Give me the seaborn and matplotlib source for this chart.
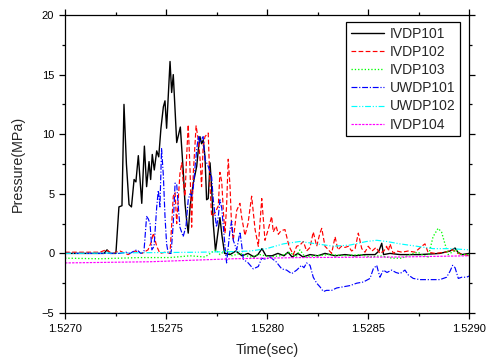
import matplotlib
matplotlib.use("Agg")
import matplotlib.pyplot as plt
import numpy as np
import seaborn as sns
from matplotlib.ticker import MultipleLocator, FormatStrFormatter

# ---------- Data ---------- #

t_ivdp101 = [1.527000, 1.527193, 1.527208, 1.527223, 1.527252, 1.527267, 1.527282, 1.527292,
             1.527304, 1.527317, 1.527329, 1.527342, 1.527351, 1.527363, 1.527380, 1.527393,
             1.527404, 1.527416, 1.527424, 1.527432, 1.527442, 1.527454, 1.527464, 1.527475,
             1.527487, 1.527495, 1.527503, 1.527520, 1.527528, 1.527536, 1.527553, 1.527571,
             1.527585, 1.527594, 1.527602, 1.527610, 1.527619, 1.527635, 1.527652, 1.527660,
             1.527668, 1.527676, 1.527684, 1.527693, 1.527701, 1.527709, 1.527718, 1.527726,
             1.527734, 1.527745, 1.527759, 1.527767, 1.527777, 1.527790, 1.527817, 1.527846,
             1.527876, 1.527906, 1.527936, 1.527955, 1.527975, 1.527995, 1.528025, 1.528054,
             1.528084, 1.528104, 1.528124, 1.528153, 1.528178, 1.528213, 1.528252, 1.528287,
             1.528337, 1.528386, 1.528436, 1.528485, 1.528535, 1.528554, 1.528568, 1.528577,
             1.528609, 1.528658, 1.528757, 1.528856, 1.528906, 1.528931, 1.528945, 1.528965,
             1.529000]
p_ivdp101 = [0.0, 0.0, 0.3, 0.0, 0.0, 3.9, 4.0, 12.5,
             7.5, 4.1, 3.9, 6.2, 6.0, 8.2, 4.2, 9.0,
             5.6, 7.7, 6.2, 8.3, 7.0, 8.6, 8.1, 10.5,
             12.3, 12.8, 10.5, 16.1, 13.5, 15.0, 9.3, 10.6,
             7.0, 4.2, 2.8, 1.7, 3.9, 5.9, 7.3, 8.7,
             9.8, 9.2, 9.5, 8.1, 4.5, 4.6, 7.6, 5.5,
             2.5, 0.2, 2.0, 3.0, 1.5, 0.0, -0.1, 0.2,
             -0.2, 0.0, -0.3, -0.1, 0.4, -0.2, -0.2, 0.0,
             -0.2, 0.1, -0.3, 0.0, -0.3, -0.1, -0.2, 0.0,
             -0.2, -0.1, -0.2, -0.1, -0.1, 0.2, 0.85, -0.1,
             0.0, -0.1, -0.1, 0.0, 0.2, 0.45, 0.1, -0.1,
             0.0]

t_ivdp102 = [1.527000, 1.527173, 1.527203, 1.527233, 1.527272, 1.527312, 1.527347, 1.527381,
             1.527411, 1.527426, 1.527437, 1.527454, 1.527470, 1.527495, 1.527520, 1.527536,
             1.527545, 1.527553, 1.527569, 1.527578, 1.527585, 1.527594, 1.527602, 1.527610,
             1.527619, 1.527627, 1.527635, 1.527649, 1.527660, 1.527668, 1.527676, 1.527684,
             1.527693, 1.527709, 1.527718, 1.527726, 1.527743, 1.527759, 1.527767, 1.527776,
             1.527784, 1.527792, 1.527800, 1.527808, 1.527817, 1.527825, 1.527833, 1.527850,
             1.527866, 1.527874, 1.527891, 1.527906, 1.527924, 1.527941, 1.527957, 1.527974,
             1.527990, 1.528006, 1.528023, 1.528031, 1.528045, 1.528056, 1.528069, 1.528089,
             1.528109, 1.528130, 1.528147, 1.528163, 1.528180, 1.528196, 1.528213, 1.528229,
             1.528246, 1.528262, 1.528271, 1.528287, 1.528304, 1.528320, 1.528337, 1.528351,
             1.528369, 1.528386, 1.528403, 1.528419, 1.528436, 1.528452, 1.528469, 1.528485,
             1.528501, 1.528520, 1.528540, 1.528559, 1.528579, 1.528592, 1.528601, 1.528609,
             1.528625, 1.528643, 1.528668, 1.528698, 1.528733, 1.528766, 1.528782, 1.528797,
             1.528832, 1.528881, 1.528921, 1.528945, 1.528975, 1.529000]
p_ivdp102 = [0.1, 0.1, 0.3, 0.0, 0.2, -0.1, 0.2, 0.0,
             0.3, 0.9, 1.7, 0.6, 0.0, 0.1, 0.0, 4.8,
             5.1, 2.5, 6.7, 7.6, 6.0, 4.8, 8.1, 10.8,
             7.0, 2.2, 6.7, 10.7, 9.5, 8.1, 5.6, 9.0,
             9.8, 10.1, 5.6, 3.1, 3.4, 4.0, 6.8, 6.0,
             3.5, 1.7, 4.0, 7.9, 5.6, 2.2, 1.1, 3.6,
             4.2, 3.1, 1.5, 2.5, 4.8, 2.0, 0.6, 4.6,
             1.1, 2.0, 3.1, 1.8, 2.3, 1.6, 1.9, 2.0,
             0.6, -0.1, 0.6, 0.7, 1.0, 0.2, 0.5, 1.8,
             0.6, 1.7, 2.1, 0.6, 0.3, 0.0, 1.4, 0.3,
             0.6, 0.5, 0.6, 0.2, 0.4, 1.7, 0.4, 0.1,
             0.6, 0.2, 0.5, 0.0, 0.2, 0.6, 0.2, 0.8,
             0.0, 0.2, 0.1, 0.2, 0.1, 0.6, 0.8, 0.1,
             0.0, 0.1, 0.3, 0.0, -0.1, -0.2]

t_ivdp103 = [1.527000, 1.527173, 1.527371, 1.527520, 1.527619, 1.527693, 1.527728, 1.527748,
             1.527767, 1.527797, 1.527827, 1.527866, 1.527916, 1.527965, 1.528015, 1.528064,
             1.528114, 1.528144, 1.528163, 1.528188, 1.528238, 1.528312, 1.528386, 1.528460,
             1.528510, 1.528559, 1.528619, 1.528668, 1.528708, 1.528747, 1.528777, 1.528798,
             1.528822, 1.528847, 1.528864, 1.528881, 1.528897, 1.528916, 1.528936, 1.528955,
             1.529000]
p_ivdp103 = [-0.4, -0.45, -0.35, -0.35, -0.2, -0.3, 0.1, 0.3,
             -0.1, 0.3, -0.2, 0.0, -0.3, -0.1, -0.3, -0.2,
             0.1, -0.3, 0.3, -0.3, -0.2, -0.1, -0.2, -0.1,
             -0.3, -0.2, -0.4, -0.4, -0.1, 0.1, -0.2, -0.3,
             1.4, 2.1, 1.8, 0.8, -0.1, 0.1, 0.3, -0.1,
             -0.1]

t_uwdp101 = [1.527000, 1.527272, 1.527302, 1.527322, 1.527342, 1.527356, 1.527376, 1.527391,
             1.527404, 1.527412, 1.527421, 1.527430, 1.527441, 1.527454, 1.527462, 1.527470,
             1.527478, 1.527487, 1.527495, 1.527503, 1.527511, 1.527525, 1.527536, 1.527545,
             1.527553, 1.527561, 1.527569, 1.527585, 1.527599, 1.527610, 1.527619, 1.527627,
             1.527635, 1.527644, 1.527652, 1.527660, 1.527668, 1.527676, 1.527684, 1.527693,
             1.527709, 1.527726, 1.527734, 1.527750, 1.527759, 1.527767, 1.527776, 1.527784,
             1.527792, 1.527800, 1.527817, 1.527825, 1.527833, 1.527850, 1.527866, 1.527874,
             1.527883, 1.527907, 1.527932, 1.527957, 1.527974, 1.527995, 1.528015, 1.528045,
             1.528073, 1.528097, 1.528122, 1.528147, 1.528171, 1.528183, 1.528196, 1.528213,
             1.528229, 1.528246, 1.528262, 1.528279, 1.528295, 1.528320, 1.528345, 1.528378,
             1.528411, 1.528444, 1.528477, 1.528510, 1.528526, 1.528543, 1.528559, 1.528576,
             1.528594, 1.528617, 1.528638, 1.528658, 1.528683, 1.528699, 1.528724, 1.528757,
             1.528790, 1.528822, 1.528856, 1.528889, 1.528906, 1.528919, 1.528931, 1.528947,
             1.528964, 1.528988, 1.529000]
p_uwdp101 = [0.0, 0.0, 0.1, 0.0, 0.2, 0.3, 0.0, 0.2,
             3.1, 2.9, 2.5, 0.3, 0.6, 3.9, 5.3, 3.9,
             8.8, 6.5, 3.1, 0.8, 0.0, 0.0, 2.5, 5.9,
             5.8, 3.9, 2.2, 1.4, 2.3, 4.5, 5.0, 4.8,
             5.5, 7.3, 8.7, 9.8, 9.3, 9.6, 9.8, 7.9,
             7.3, 6.4, 4.5, 2.2, 3.1, 4.5, 3.8, 2.2,
             0.6, -0.8, 2.0, 2.7, 1.1, 0.3, 1.8, 0.8,
             -0.5, -0.8, -1.3, -1.1, -0.4, -0.5, -0.3, -0.7,
             -1.3, -1.4, -1.7, -1.4, -1.0, -1.2, -0.8, -1.0,
             -2.0, -2.5, -2.8, -3.2, -3.1, -3.1, -2.9, -2.8,
             -2.7, -2.5, -2.4, -2.1, -1.3, -1.0, -2.0, -1.4,
             -1.6, -1.4, -1.6, -1.7, -1.4, -1.8, -2.1, -2.2,
             -2.2, -2.2, -2.2, -2.0, -1.5, -1.0, -1.2, -2.1,
             -2.0, -2.0, -1.9]

t_uwdp102 = [1.527000, 1.527668, 1.527832, 1.527916, 1.527998, 1.528081, 1.528163, 1.528246,
             1.528328, 1.528411, 1.528493, 1.528543, 1.528592, 1.528658, 1.528741, 1.528822,
             1.528906, 1.529000]
p_uwdp102 = [0.0, 0.1, 0.15, 0.2, 0.4, 0.8, 1.0, 0.8,
             0.6, 0.7, 1.0, 1.1, 1.0, 0.8, 0.6, 0.4,
             0.4, 0.3]

t_ivdp104 = [1.527000, 1.527421, 1.527668, 1.527832, 1.528163, 1.528658, 1.529000]
p_ivdp104 = [-0.8, -0.7, -0.55, -0.45, -0.35, -0.3, -0.2]

series = [
    ("IVDP101", t_ivdp101, p_ivdp101, "black", "-", 1.0),
    ("IVDP102", t_ivdp102, p_ivdp102, "#ff0000", (0, (4, 2)), 0.85),
    ("IVDP103", t_ivdp103, p_ivdp103, "#00ff00", (0, (1, 1.5)), 0.95),
    ("UWDP101", t_uwdp101, p_uwdp101, "#0000ff", (0, (5, 1.5, 1, 1.5)), 0.85),
    ("UWDP102", t_uwdp102, p_uwdp102, "#00ffff", (0, (5, 1.5, 1, 1.5, 1, 1.5)), 0.85),
    ("IVDP104", t_ivdp104, p_ivdp104, "#ff00ff", (0, (2, 1)), 0.85),
]

# ---------- Plot ---------- #

sns.set_style("ticks")
plt.rcParams["font.family"] = ["Liberation Sans", "DejaVu Sans"]
plt.rcParams["axes.linewidth"] = 0.9

fig = plt.figure(figsize=(4.86, 3.6), dpi=100)
ax = fig.add_axes([65 / 486, 1 - 313 / 360, 404 / 486, 298 / 360])

for name, t, p, color, ls, lw in series:
    sns.lineplot(x=np.array(t), y=np.array(p), ax=ax, color=color, linestyle=ls,
                 linewidth=lw, label=name, estimator=None, sort=False)

ax.set_xlim(1.527, 1.529)
ax.set_ylim(-5, 20)
ax.xaxis.set_major_locator(MultipleLocator(0.0005))
ax.xaxis.set_minor_locator(MultipleLocator(0.00025))
ax.xaxis.set_major_formatter(FormatStrFormatter("%.4f"))
ax.yaxis.set_major_locator(MultipleLocator(5))
ax.yaxis.set_minor_locator(MultipleLocator(2.5))
ax.tick_params(which="both", direction="out", top=True, right=True,
               labelsize=8, width=0.9, color="black", labelcolor="black")
ax.tick_params(which="major", length=4.2, pad=3.5)
ax.tick_params(which="minor", length=2.2)
for s in ax.spines.values():
    s.set_visible(True)
    s.set_color("black")

ax.set_xlabel("Time(sec)", fontsize=10.3, labelpad=7)
ax.set_ylabel("Pressure(MPa)", fontsize=10.3, labelpad=12)

leg = ax.legend(loc="upper right", bbox_to_anchor=(0.978, 0.977), borderaxespad=0,
                fontsize=10, frameon=True, fancybox=False, edgecolor="black",
                framealpha=1, handlelength=2.4, handletextpad=0.4,
                labelspacing=0.3, borderpad=0.35)
leg.get_frame().set_linewidth(0.9)

fig.savefig("out.png", dpi=100)
